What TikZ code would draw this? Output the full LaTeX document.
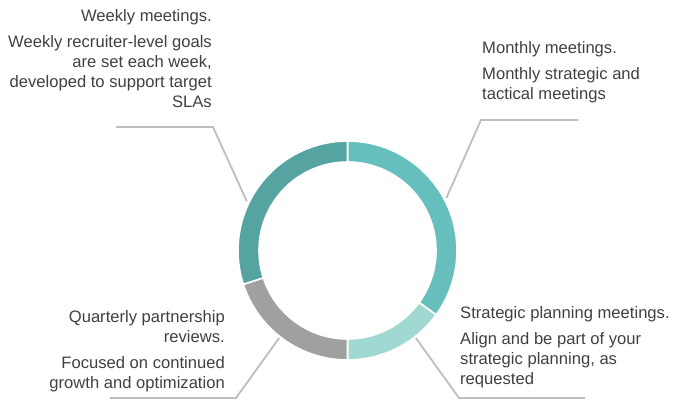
\documentclass[tikz,border=0pt]{standalone}
\usepackage{fontspec}
\setmainfont{Liberation Sans}
\usepackage{tikz}
\usepackage{xcolor}
\usetikzlibrary{positioning,calc}
\definecolor{cadweekly}{RGB}{85,164,162}
\definecolor{cadmonthly}{RGB}{103,191,189}
\definecolor{cadplanning}{RGB}{160,216,210}
\definecolor{cadquarter}{RGB}{160,160,160}
\definecolor{cadcallout}{RGB}{190,190,190}
\definecolor{cadtext}{RGB}{64,64,64}

\tikzset{
  callout/.style={draw=cadcallout,line width=1.8pt},
  blurb/.style={inner sep=0pt,text=cadtext,font=\fontsize{16.6}{20}\selectfont},
}

\begin{document}
\begin{tikzpicture}[x=1pt,y=1pt]
  \useasboundingbox (0,0) rectangle (683,412);
  \coordinate (hub) at (347.5,161.5);

  % ring segments: start angle / end angle / colour
  \foreach \a/\b/\c in {90/-36/cadmonthly,-36/-90/cadplanning,-90/-162/cadquarter,-162/-270/cadweekly}
    \filldraw[fill=\c,draw=white,line width=1.6pt,shift={(hub)}]
      (\a:109.5) arc[start angle=\a,end angle=\b,radius=109.5]
      -- (\b:88.5) arc[start angle=\b,end angle=\a,radius=88.5] -- cycle;

  % base anchor sits on the last line
  \node[blurb,align=right,anchor=base east] (weekly) at (212,304)
    {Weekly meetings.\\[6.5pt]Weekly recruiter-level goals\\are set each week,\\developed to support target\\SLAs};
  \node[blurb,align=left,anchor=base west] (monthly) at (482,312)
    {Monthly meetings.\\[6.5pt]Monthly strategic and\\tactical meetings};
  \node[blurb,align=left,anchor=base west] (planning) at (460,27)
    {Strategic planning meetings.\\[6.5pt]Align and be part of your\\strategic planning, as\\requested};
  \node[blurb,align=right,anchor=base east] (quarter) at (225,23)
    {Quarterly partnership\\reviews.\\[6.5pt]Focused on continued\\growth and optimization};

  \coordinate (weekly-tip) at ($(hub)+(154:112)$);
  \coordinate (weekly-bend) at (213,285);
  \coordinate (weekly-end) at (116,285);
  \coordinate (monthly-tip) at ($(hub)+(28:112)$);
  \coordinate (monthly-bend) at (481,292);
  \coordinate (monthly-end) at (578,292);
  \coordinate (planning-tip) at ($(hub)+(-52:111)$);
  \coordinate (planning-bend) at (459,14);
  \coordinate (planning-end) at (585,14);
  \coordinate (quarter-tip) at ($(hub)+(-128:111)$);
  \coordinate (quarter-bend) at (236,14);
  \coordinate (quarter-end) at (110,14);

  \draw[callout] (weekly-tip) -- (weekly-bend) -- (weekly-end);
  \draw[callout] (monthly-tip) -- (monthly-bend) -- (monthly-end);
  \draw[callout] (planning-tip) -- (planning-bend) -- (planning-end);
  \draw[callout] (quarter-tip) -- (quarter-bend) -- (quarter-end);
\end{tikzpicture}
\end{document}
